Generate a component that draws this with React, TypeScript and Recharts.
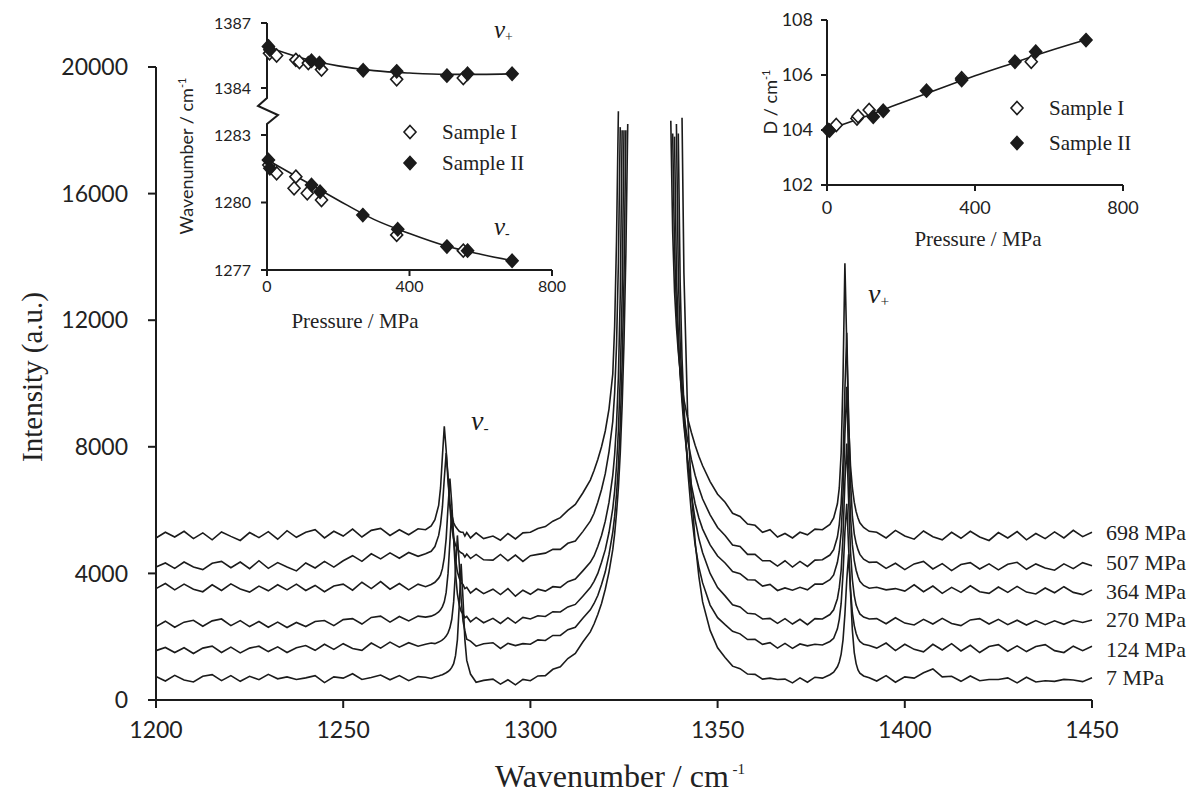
import React from "react";
import { ComposedChart, Line, LineChart, Scatter, XAxis, YAxis } from "recharts";

const N = null;

// wavenumber grid (cm-1); 1331 is a gap point so the clipped band is not joined
const wavenumbers = [
  1200, 1202.5, 1205, 1207.5, 1210, 1212.5, 1215, 1217.5, 1220, 1222.5, 1225, 1227.5, 1230, 1232.5, 1235, 1237.5, 1240, 1242.5, 1245, 1247.5, 1250, 1252.5, 1255, 1257.5, 1260, 1262.5, 1265, 1267.5, 1270,
  1272, 1273.5, 1274.5, 1275.5, 1276, 1276.5, 1277, 1277.5, 1278, 1278.5, 1279, 1279.5, 1280, 1280.5, 1281, 1281.5, 1282, 1282.5, 1283, 1284, 1285.5, 1287.5,
  1290, 1292, 1294, 1296, 1298, 1300, 1302, 1304, 1306, 1308, 1310, 1312, 1314,
  1316, 1317, 1318, 1319, 1320, 1321, 1322, 1322.5, 1323, 1323.5, 1324, 1324.5, 1325, 1325.5, 1326,
  1331,
  1337, 1337.5, 1338, 1338.5, 1339, 1339.5, 1340, 1340.5, 1341, 1342, 1343, 1344, 1345, 1346, 1348,
  1350, 1352, 1354, 1356, 1358, 1360, 1362, 1364, 1366, 1368, 1370, 1372, 1374, 1376, 1378,
  1380, 1381, 1382, 1382.5, 1383, 1383.5, 1384, 1384.5, 1385, 1385.5, 1386, 1386.5, 1387, 1387.5, 1388, 1389, 1390.5,
  1392.5, 1395, 1397.5, 1400, 1402.5, 1405, 1407.5, 1410, 1412.5, 1415, 1417.5, 1420, 1422.5, 1425, 1427.5, 1430, 1432.5, 1435, 1437.5, 1440, 1442.5, 1445, 1447.5, 1450,
];

const mpa698 = [
  5120, 5300, 5150, 5330, 5100, 5280, 5060, 5310, 5170, 5040, 5290, 5130, 5320, 5080, 5350, 5140, 5300, 5380, 5120, 5330, 5180, 5400, 5150, 5360, 5420, 5200, 5380, 5220, 5410,
  5380, 5500, 5700, 6150, 6700, 7700, 8650, 7900, 6900, 6200, 5850, 5600, 5480, 5400, 5330, 5300, 5300, 5180, 5290, 5120, 5280, 5100,
  5180, 5050, 5260, 5090, 5280, 5300, 5420, 5480, 5650, 5760, 5990, 6180, 6540,
  6950, 7250, 7600, 8000, 8500, 9200, 10300, 11800, 14500, 18600, N, N, N, N, N,
  N,
  N, 18300, 14800, 12900, 11800, 11000, 10400, 9900, 9500, 8900, 8450, 8050, 7700, 7400, 6900,
  6500, 6250, 5900, 5800, 5560, 5520, 5300, 5380, 5150, 5260, 5120, 5300, 5220, 5400, 5380,
  5550, 5750, 6200, 6700, 7800, 10200, 13800, 11200, 8700, 7400, 6700, 6250, 5950, 5750, 5600, 5450, 5330,
  5300, 5120, 5360, 5180, 5080, 5340, 5160, 5060, 5300, 5110, 5330, 5150, 5040, 5290, 5120, 5320, 5060, 5260, 5100, 5310, 5120, 5360, 5160, 5300,
];

const mpa507 = [
  4200, 4330, 4160, 4360, 4200, 4120, 4320, 4380, 4180, 4360, 4150, 4400, 4160, 4340, 4200, 4080, 4330, 4170, 4380, 4200, 4400, 4560, 4380, 4620, 4460, 4650, 4480, 4660, 4540,
  4620, 4700, 4850, 5200, 5550, 6100, 7000, 7800, 7100, 6100, 5450, 5100, 4900, 4780, 4700, 4650, 4620, 4520, 4610, 4470, 4600, 4430,
  4420, 4600, 4400, 4580, 4380, 4560, 4600, 4640, 4760, 4760, 4950, 5020, 5320,
  5650, 5900, 6250, 6650, 7150, 7850, 8800, 9700, 11200, 13800, 18100, N, N, N, N,
  N,
  N, N, 17900, 14200, 12400, 11200, 10300, 9600, 9000, 8200, 7600, 7100, 6700, 6350, 5850,
  5450, 5200, 4900, 4850, 4600, 4600, 4400, 4400, 4230, 4400, 4200, 4380, 4220, 4420, 4430,
  4580, 4750, 5150, 5550, 6200, 7500, 9800, 11600, 8900, 6900, 5800, 5250, 4950, 4750, 4600, 4450, 4350,
  4360, 4160, 4320, 4120, 4300, 4380, 4140, 4310, 4090, 4280, 4340, 4140, 4300, 4110, 4290, 4350, 4130, 4300, 4170, 4100, 4300, 4150, 4340, 4240,
];

const mpa364 = [
  3520, 3680, 3480, 3660, 3500, 3420, 3640, 3460, 3670, 3510, 3410, 3600, 3450, 3640, 3480, 3660, 3460, 3620, 3420, 3600, 3660, 3470, 3720, 3520, 3740, 3500, 3680, 3480, 3660,
  3580, 3650, 3720, 3850, 3950, 4150, 4500, 5100, 6100, 7000, 6200, 5100, 4450, 4050, 3850, 3700, 3650, 3520, 3560, 3380, 3520, 3360,
  3500, 3330, 3520, 3280, 3470, 3340, 3500, 3440, 3580, 3560, 3740, 3820, 4080,
  4350, 4550, 4850, 5200, 5650, 6250, 7100, 7750, 8700, 10200, 12800, 18000, N, N, N,
  N,
  N, N, N, 17800, 13500, 11600, 10300, 9400, 8650, 7600, 6800, 6200, 5750, 5400, 4900,
  4550, 4330, 4060, 3990, 3800, 3790, 3600, 3650, 3460, 3540, 3470, 3560, 3480, 3660, 3660,
  3800, 3950, 4350, 4700, 5300, 6500, 8400, 9900, 7500, 5800, 4900, 4400, 4100, 3900, 3750, 3620, 3530,
  3560, 3480, 3520, 3440, 3640, 3420, 3600, 3370, 3560, 3400, 3610, 3420, 3370, 3570, 3400, 3590, 3410, 3350, 3540, 3390, 3580, 3400, 3330, 3480,
];

const mpa270 = [
  2320, 2490, 2300, 2460, 2520, 2330, 2500, 2560, 2350, 2510, 2320, 2480, 2300, 2460, 2290, 2450, 2320, 2480, 2510, 2350, 2540, 2570, 2400, 2610, 2650, 2460, 2640, 2500, 2650,
  2620, 2650, 2700, 2780, 2850, 2950, 3100, 3400, 4000, 5000, 6000, 5100, 4000, 3350, 3000, 2800, 2720, 2600, 2640, 2470, 2610, 2440,
  2580, 2420, 2600, 2430, 2610, 2560, 2660, 2640, 2790, 2780, 2940, 3020, 3280,
  3550, 3750, 4000, 4350, 4750, 5300, 6050, 6600, 7400, 8500, 10200, 12800, 18000, N, N,
  N,
  N, N, N, N, 18200, 13500, 11300, 9900, 8900, 7500, 6500, 5700, 5100, 4650, 4000,
  3550, 3290, 3010, 2940, 2740, 2720, 2560, 2580, 2420, 2570, 2400, 2550, 2380, 2570, 2560,
  2700, 2850, 3200, 3550, 4100, 5200, 6900, 8100, 6300, 4700, 3800, 3300, 3000, 2850, 2720, 2620, 2560,
  2570, 2410, 2600, 2430, 2370, 2550, 2400, 2580, 2420, 2350, 2530, 2570, 2400, 2550, 2380, 2520, 2370, 2510, 2380, 2500, 2390, 2520, 2450, 2530,
];

const mpa124 = [
  1560, 1660, 1500, 1650, 1470, 1640, 1700, 1500, 1670, 1490, 1640, 1700, 1530, 1680, 1500, 1650, 1720, 1570, 1760, 1600, 1780, 1630, 1570, 1800, 1640, 1830, 1670, 1810, 1700,
  1760, 1800, 1780, 1830, 1860, 1900, 1950, 2020, 2120, 2280, 2550, 3100, 4100, 5200, 4300, 3200, 2500, 2180, 1920, 1860, 1700, 1780,
  1810, 1630, 1790, 1720, 1780, 1760, 1900, 1880, 2040, 2040, 2220, 2300, 2580,
  2850, 3050, 3300, 3650, 4050, 4600, 5300, 5800, 6500, 7400, 8700, 10600, 13300, 18000, N,
  N,
  N, N, N, N, N, 17900, 13200, 10800, 9300, 7300, 5900, 4900, 4200, 3700, 3000,
  2600, 2380, 2170, 2090, 1910, 1920, 1760, 1810, 1640, 1790, 1630, 1770, 1710, 1760, 1740,
  1850, 1950, 2250, 2550, 3050, 4000, 5300, 6200, 4800, 3500, 2750, 2350, 2100, 1950, 1850, 1760, 1720,
  1640, 1800, 1560, 1760, 1600, 1520, 1760, 1580, 1780, 1550, 1730, 1500, 1690, 1750, 1540, 1710, 1530, 1690, 1750, 1560, 1500, 1700, 1560, 1700,
];

const mpa7 = [
  740, 600, 780, 630, 570, 750, 800, 610, 770, 590, 750, 640, 810, 670, 730, 650, 700, 770, 550, 730, 690, 830, 650, 710, 790, 640, 770, 610, 740,
  720, 680, 730, 760, 780, 800, 830, 860, 900, 950, 1030, 1150, 1400, 1900, 3000, 4300, 3200, 1900, 1250, 820, 560, 620,
  660, 500, 640, 480, 650, 610, 760, 770, 970, 1050, 1310, 1470, 1830,
  2150, 2400, 2700, 3050, 3500, 4050, 4750, 5250, 5900, 6700, 7800, 9300, 11300, 14100, 18200,
  N,
  N, N, N, N, N, N, N, 18400, 13500, 9000, 6600, 5000, 3900, 3100, 2200,
  1650, 1340, 1070, 990, 820, 810, 660, 690, 650, 660, 540, 700, 560, 720, 690,
  800, 880, 1050, 1200, 1450, 1900, 2700, 3800, 4600, 3400, 2200, 1500, 1150, 950, 850, 760, 700,
  600, 770, 560, 730, 690, 860, 980, 730, 750, 590, 760, 610, 650, 650, 700, 540, 720, 570, 610, 590, 650, 630, 580, 700,
];

const pressureLabels = ["698 MPa", "507 MPa", "364 MPa", "270 MPa", "124 MPa", "7 MPa"];
const xTicks = [1200, 1250, 1300, 1350, 1400, 1450];
const yTicks = [0, 4000, 8000, 12000, 16000, 20000];

// inset 1: peak positions vs pressure
const nuPlusSampleI = [
  { p: 7, v: 1385.6 }, { p: 27, v: 1385.5 }, { p: 81, v: 1385.3 }, { p: 91, v: 1385.2 },
  { p: 116, v: 1385.15 }, { p: 153, v: 1384.85 }, { p: 364, v: 1384.4 }, { p: 551, v: 1384.46 },
];
const nuPlusSampleII = [
  { p: 4, v: 1385.92 }, { p: 8, v: 1385.77 }, { p: 125, v: 1385.26 }, { p: 147, v: 1385.15 },
  { p: 270, v: 1384.82 }, { p: 364, v: 1384.77 }, { p: 505, v: 1384.57 }, { p: 563, v: 1384.66 }, { p: 688, v: 1384.66 },
];
const nuPlusFit = [
  { p: 0, v: 1385.9 }, { p: 100, v: 1385.37 }, { p: 200, v: 1385.02 }, { p: 300, v: 1384.8 },
  { p: 400, v: 1384.69 }, { p: 500, v: 1384.63 }, { p: 600, v: 1384.63 }, { p: 700, v: 1384.66 },
];
const nuMinusSampleI = [
  { p: 5, v: 1281.67 }, { p: 27, v: 1281.3 }, { p: 81, v: 1281.15 }, { p: 76, v: 1280.63 },
  { p: 113, v: 1280.41 }, { p: 153, v: 1280.11 }, { p: 364, v: 1278.56 }, { p: 551, v: 1277.86 },
];
const nuMinusSampleII = [
  { p: 4, v: 1281.89 }, { p: 8, v: 1281.52 }, { p: 125, v: 1280.78 }, { p: 149, v: 1280.48 },
  { p: 269, v: 1279.44 }, { p: 367, v: 1278.81 }, { p: 505, v: 1278.04 }, { p: 563, v: 1277.86 }, { p: 688, v: 1277.41 },
];
const nuMinusFit = [
  { p: 0, v: 1281.9 }, { p: 100, v: 1281.0 }, { p: 200, v: 1280.1 }, { p: 300, v: 1279.25 },
  { p: 400, v: 1278.62 }, { p: 500, v: 1278.08 }, { p: 600, v: 1277.7 }, { p: 700, v: 1277.38 },
];

// inset 2: D vs pressure
const dSampleI = [
  { p: 25, v: 104.18 }, { p: 81, v: 104.42 }, { p: 84, v: 104.5 }, { p: 114, v: 104.73 },
  { p: 364, v: 105.88 }, { p: 552, v: 106.48 },
];
const dSampleII = [
  { p: 3, v: 104.0 }, { p: 7, v: 103.98 }, { p: 125, v: 104.48 }, { p: 152, v: 104.7 },
  { p: 269, v: 105.43 }, { p: 364, v: 105.82 }, { p: 508, v: 106.48 }, { p: 564, v: 106.85 }, { p: 700, v: 107.27 },
];
const dFit = [
  { p: 0, v: 104.0 }, { p: 100, v: 104.47 }, { p: 200, v: 104.98 }, { p: 300, v: 105.48 },
  { p: 400, v: 105.97 }, { p: 500, v: 106.42 }, { p: 600, v: 106.87 }, { p: 700, v: 107.28 },
];

const spectra = wavenumbers.map((w, i) => ({
  w,
  s698: mpa698[i] ?? null,
  s507: mpa507[i] ?? null,
  s364: mpa364[i] ?? null,
  s270: mpa270[i] ?? null,
  s124: mpa124[i] ?? null,
  s7: mpa7[i] ?? null,
}));

const INK = "#1b1b1b";
const SANS = "Lato, 'Open Sans', sans-serif";
const SERIF = "'Liberation Serif', 'Times New Roman', serif";

function diamond(filled: boolean) {
  return (props: any) => {
    const { cx, cy } = props;
    if (cx == null || cy == null) return <g />;
    return (
      <path
        d={`M${cx},${cy - 6.5}L${cx + 6},${cy}L${cx},${cy + 6.5}L${cx - 6},${cy}Z`}
        fill={filled ? INK : "#fff"}
        stroke={INK}
        strokeWidth={1.6}
      />
    );
  };
}

const leftInsetTick = { fontSize: 16, fill: "#222", fontFamily: SANS };
const rightInsetTick = { fontSize: 18, fill: "#222", fontFamily: SANS };

function Nu({ x, y, sign, size }: { x: number; y: number; sign: string; size: number }) {
  return (
    <text x={x} y={y} fontFamily={SERIF} fontStyle="italic" fontSize={size} fill={INK}>
      ν
      <tspan dy={size * 0.12} fontSize={size * 0.55} fontStyle="normal">{sign}</tspan>
    </text>
  );
}

function LegendRow({ x, y, filled, label }: { x: number; y: number; filled: boolean; label: string }) {
  return (
    <g>
      <path
        d={`M${x},${y - 6.5}L${x + 6},${y}L${x},${y + 6.5}L${x - 6},${y}Z`}
        fill={filled ? INK : "#fff"}
        stroke={INK}
        strokeWidth={1.6}
      />
      <text x={x + 32} y={y + 7} fontFamily={SERIF} fontSize={21} fill="#222">{label}</text>
    </g>
  );
}

export default function App() {
  const series = ["s698", "s507", "s364", "s270", "s124", "s7"];
  const labelY = [540, 570, 599, 627, 657, 685];

  return (
    <div style={{ position: "absolute", left: 0, top: 0, width: 1197, height: 795, background: "#fff" }}>
      {/* main spectra */}
      <div style={{ position: "absolute", left: 0, top: 0 }}>
        <LineChart width={1197} height={795} data={spectra} margin={{ top: 67, right: 105, bottom: 0, left: 0 }}>
          <XAxis
            dataKey="w"
            type="number"
            domain={[1200, 1450]}
            ticks={xTicks}
            interval={0}
            height={95}
            tickSize={8}
            tickMargin={14}
            stroke={INK}
            strokeWidth={2}
            tick={{ fontSize: 23, fill: "#222", fontFamily: SANS }}
          />
          <YAxis
            type="number"
            domain={[0, 20000]}
            ticks={yTicks}
            interval={0}
            width={156}
            tickSize={8}
            tickMargin={20}
            stroke={INK}
            strokeWidth={2}
            tick={{ fontSize: 23, fill: "#222", fontFamily: SANS }}
          />
          {series.map((k) => (
            <Line
              key={k}
              dataKey={k}
              type="linear"
              stroke={INK}
              strokeWidth={1.6}
              dot={false}
              connectNulls={false}
              isAnimationActive={false}
            />
          ))}
        </LineChart>
      </div>

      {/* inset: nu+ (upper part of broken axis) */}
      <div style={{ position: "absolute", left: 180, top: 0 }}>
        <ComposedChart width={400} height={100} margin={{ top: 23, right: 28, bottom: 12, left: 0 }}>
          <XAxis dataKey="p" type="number" domain={[0, 800]} hide />
          <YAxis
            dataKey="v"
            type="number"
            domain={[1384, 1387]}
            ticks={[1384, 1387]}
            width={87}
            tickSize={6}
            tickMargin={10}
            stroke={INK}
            strokeWidth={2}
            tick={leftInsetTick}
          />
          <Line data={nuPlusFit} dataKey="v" type="monotone" stroke={INK} strokeWidth={1.6} dot={false} isAnimationActive={false} />
          <Scatter data={nuPlusSampleI} dataKey="v" shape={diamond(false)} isAnimationActive={false} />
          <Scatter data={nuPlusSampleII} dataKey="v" shape={diamond(true)} isAnimationActive={false} />
        </ComposedChart>
      </div>

      {/* inset: nu- (lower part of broken axis) */}
      <div style={{ position: "absolute", left: 180, top: 100 }}>
        <ComposedChart width={400} height={240} margin={{ top: 35, right: 28, bottom: 0, left: 0 }}>
          <XAxis
            dataKey="p"
            type="number"
            domain={[0, 800]}
            ticks={[0, 400, 800]}
            interval={0}
            height={70}
            tickSize={6}
            tickMargin={5}
            stroke={INK}
            strokeWidth={2}
            tick={leftInsetTick}
          />
          <YAxis
            dataKey="v"
            type="number"
            domain={[1277, 1283]}
            ticks={[1277, 1280, 1283]}
            interval={0}
            width={87}
            tickSize={6}
            tickMargin={10}
            stroke={INK}
            strokeWidth={2}
            tick={leftInsetTick}
          />
          <Line data={nuMinusFit} dataKey="v" type="monotone" stroke={INK} strokeWidth={1.6} dot={false} isAnimationActive={false} />
          <Scatter data={nuMinusSampleI} dataKey="v" shape={diamond(false)} isAnimationActive={false} />
          <Scatter data={nuMinusSampleII} dataKey="v" shape={diamond(true)} isAnimationActive={false} />
        </ComposedChart>
      </div>

      {/* inset: D vs pressure */}
      <div style={{ position: "absolute", left: 760, top: 0 }}>
        <ComposedChart width={437} height={260} margin={{ top: 20, right: 74, bottom: 0, left: 0 }}>
          <XAxis
            dataKey="p"
            type="number"
            domain={[0, 800]}
            ticks={[0, 400, 800]}
            interval={0}
            height={75}
            tickSize={6}
            tickMargin={10}
            stroke={INK}
            strokeWidth={2}
            tick={rightInsetTick}
          />
          <YAxis
            dataKey="v"
            type="number"
            domain={[102, 108]}
            ticks={[102, 104, 106, 108]}
            interval={0}
            width={67}
            tickSize={6}
            tickMargin={8}
            stroke={INK}
            strokeWidth={2}
            tick={rightInsetTick}
          />
          <Line data={dFit} dataKey="v" type="monotone" stroke={INK} strokeWidth={1.6} dot={false} isAnimationActive={false} />
          <Scatter data={dSampleI} dataKey="v" shape={diamond(false)} isAnimationActive={false} />
          <Scatter data={dSampleII} dataKey="v" shape={diamond(true)} isAnimationActive={false} />
        </ComposedChart>
      </div>

      {/* titles, labels, legends */}
      <svg width={1197} height={795} style={{ position: "absolute", left: 0, top: 0, pointerEvents: "none" }}>
        <text transform="translate(42,377) rotate(-90)" textAnchor="middle" fontFamily={SERIF} fontSize={29} fill="#222">
          Intensity (a.u.)
        </text>
        <text x={620} y={787} textAnchor="middle" fontFamily={SERIF} fontSize={32} fill="#222">
          Wavenumber / cm<tspan dy={-13} fontSize={15}> -1</tspan>
        </text>
        {pressureLabels.map((l, i) => (
          <text key={l} x={1106} y={labelY[i]} fontFamily={SERIF} fontSize={22} fill="#222">{l}</text>
        ))}
        <Nu x={471} y={430} sign="-" size={28} />
        <Nu x={868} y={303} sign="+" size={28} />

        {/* broken axis mark */}
        <path d="M267,87 L267,98 L258,106 L278,115 L267,124 L267,136" fill="none" stroke={INK} strokeWidth={2} />
        <Nu x={494} y={38} sign="+" size={25} />
        <Nu x={494} y={235} sign="-" size={25} />
        <LegendRow x={410} y={132} filled={false} label="Sample I" />
        <LegendRow x={410} y={163} filled={true} label="Sample II" />
        <text transform="translate(193,156) rotate(-90)" textAnchor="middle" fontFamily={SANS} fontSize={18} fill="#222">
          Wavenumber / cm<tspan dy={-7} fontSize={11}>-1</tspan>
        </text>
        <text x={355} y={328} textAnchor="middle" fontFamily={SERIF} fontSize={21} fill="#222">Pressure / MPa</text>

        <LegendRow x={1017} y={108} filled={false} label="Sample I" />
        <LegendRow x={1017} y={143} filled={true} label="Sample II" />
        <text transform="translate(777,102) rotate(-90)" textAnchor="middle" fontFamily={SANS} fontSize={18} fill="#222">
          D / cm<tspan dy={-7} fontSize={11}>-1</tspan>
        </text>
        <text x={978} y={246} textAnchor="middle" fontFamily={SERIF} fontSize={21} fill="#222">Pressure / MPa</text>
      </svg>
    </div>
  );
}
